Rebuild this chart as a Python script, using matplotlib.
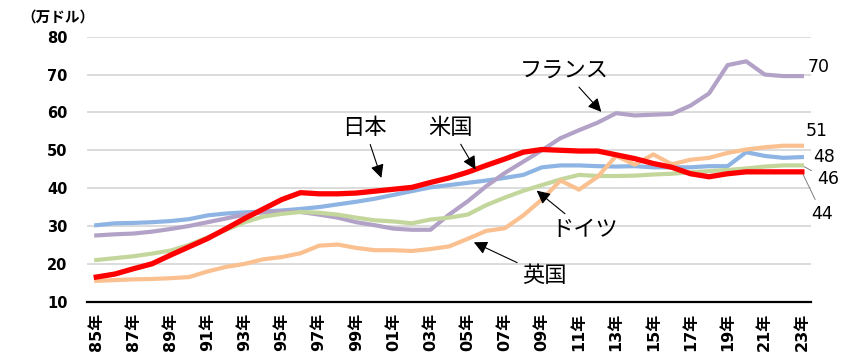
import numpy as np
import matplotlib
matplotlib.use("Agg")
import matplotlib.pyplot as plt

plt.rcParams['font.family'] = ['DejaVu Sans', 'Noto Sans CJK JP']

# 1985 - 2023
years = list(range(1985, 2024))
year_labels = [f"{y % 100:02d}年" for y in years]

japan = [16.5, 17.3, 18.7, 20.0, 22.3, 24.5, 26.7, 29.3, 32.0, 34.5,
         37.0, 38.8, 38.5, 38.5, 38.7, 39.2, 39.7, 40.2, 41.5, 42.7,
         44.2, 46.0, 47.7, 49.5, 50.2, 50.0, 49.8, 49.8, 48.8, 47.8,
         46.5, 45.5, 43.8, 43.0, 43.8, 44.3, 44.3, 44.3, 44.3]
usa = [30.2, 30.7, 30.8, 31.0, 31.3, 31.8, 32.8, 33.3, 33.6, 33.8,
       34.1, 34.5, 35.0, 35.7, 36.4, 37.2, 38.2, 39.2, 40.2, 40.8,
       41.4, 42.0, 42.7, 43.5, 45.5, 46.0, 46.0, 45.8, 45.7, 45.8,
       45.5, 45.5, 45.5, 45.8, 45.8, 49.5, 48.5, 48.0, 48.2]
france = [27.5, 27.8, 28.0, 28.5, 29.2, 30.0, 31.0, 32.0, 33.0, 33.6,
          33.8, 33.7, 33.0, 32.2, 31.0, 30.2, 29.3, 29.0, 29.0, 33.0,
          36.5, 40.5, 44.0, 47.0, 50.0, 53.2, 55.3, 57.3, 59.8, 59.2,
          59.4, 59.6, 61.8, 65.0, 72.5, 73.5, 70.0, 69.6, 69.6]
germany = [21.0, 21.5, 22.0, 22.7, 23.5, 25.0, 27.0, 29.0, 31.0, 32.5,
           33.2, 33.7, 33.5, 33.0, 32.2, 31.5, 31.2, 30.7, 31.7, 32.2,
           33.0, 35.5, 37.5, 39.3, 40.8, 42.3, 43.5, 43.2, 43.2, 43.3,
           43.6, 43.8, 44.2, 44.5, 44.8, 45.2, 45.7, 46.0, 46.0]
uk = [15.5, 15.7, 15.9, 16.0, 16.2, 16.5, 18.0, 19.2, 20.0, 21.2,
      21.8, 22.8, 24.8, 25.1, 24.2, 23.6, 23.6, 23.4, 23.9, 24.6,
      26.6, 28.7, 29.4, 32.8, 37.0, 42.0, 39.6, 43.0, 48.5, 46.2,
      48.9, 46.3, 47.5, 48.0, 49.3, 50.2, 50.8, 51.2, 51.2]

x = np.arange(len(years))

fig = plt.figure(figsize=(8.57, 3.6), dpi=100)
ax = fig.add_axes([0.1015, 0.162, 0.845, 0.736])

ax.plot(x, usa, color='#8EB4E3', lw=3.0, zorder=3)
ax.plot(x, france, color='#B3A2C7', lw=3.0, zorder=3)
ax.plot(x, germany, color='#C3D69B', lw=3.0, zorder=3)
ax.plot(x, uk, color='#FAC090', lw=3.0, zorder=3)
ax.plot(x, japan, color='#FF0000', lw=3.8, zorder=4)

ax.set_xlim(-0.5, len(years) - 0.5)
ax.set_ylim(10, 80)
ax.set_yticks(range(10, 81, 10))
ax.set_xticks(x[::2])
ax.set_xticklabels(year_labels[::2], rotation=90, fontweight='bold', fontsize=11.5)
for lab in ax.get_yticklabels():
    lab.set_fontweight('bold')
    lab.set_fontsize(10.5)
ax.tick_params(axis='y', length=0, pad=14)
ax.tick_params(axis='x', length=0, pad=8)

for v in range(20, 81, 10):
    ax.axhline(v, color='#D9D9D9', lw=1.3, zorder=1)
for s in ['top', 'right', 'left']:
    ax.spines[s].set_visible(False)
ax.spines['bottom'].set_color('black')
ax.spines['bottom'].set_linewidth(1.6)

fig.text(0.025, 0.953, '（万ドル）', fontsize=10.5, fontweight='bold',
         family=['Noto Sans CJK JP'], va='center')

# 注釈
arrow = dict(arrowstyle='-|>', color='black', lw=0.8, mutation_scale=20)
jp_font = ['Noto Sans CJK JP']
ax.annotate('日本', xy=(15.4, 42.0), xytext=(14.45, 56), fontsize=16, family=jp_font,
            ha='center', va='center', arrowprops=arrow, zorder=6)
ax.annotate('米国', xy=(20.5, 44.3), xytext=(19.1, 56), fontsize=16, family=jp_font,
            ha='center', va='center', arrowprops=arrow, zorder=6)
ax.annotate('フランス', xy=(27.3, 59.6), xytext=(25.2, 71.0), fontsize=16, family=jp_font,
            ha='center', va='center', arrowprops=arrow, zorder=6)
ax.annotate('ドイツ', xy=(23.6, 39.8), xytext=(26.3, 29.0), fontsize=16, family=jp_font,
            ha='center', va='center', arrowprops=arrow, zorder=6)
ax.annotate('英国', xy=(20.2, 26.0), xytext=(24.15, 16.9), fontsize=16, family=jp_font,
            ha='center', va='center', arrowprops=arrow, zorder=6)

# 末尾の値
last = len(years) - 1
ax.text(last + 0.3, france[-1] + 2.5, f"{france[-1]:.0f}", fontsize=12.5, va='center')
ax.text(last + 0.2, uk[-1] + 4.0, f"{uk[-1]:.0f}", fontsize=12.5, va='center')
ax.text(last + 0.6, usa[-1], f"{usa[-1]:.0f}", fontsize=12.5, va='center')
ax.annotate(f"{germany[-1]:.0f}", xy=(last, germany[-1]), xytext=(last + 0.8, 42.3),
            fontsize=12.5, va='center', annotation_clip=False,
            arrowprops=dict(arrowstyle='-', color='gray', lw=0.7))
ax.annotate(f"{japan[-1]:.0f}", xy=(last, japan[-1]), xytext=(last + 0.5, 33.2),
            fontsize=12.5, va='center', annotation_clip=False,
            arrowprops=dict(arrowstyle='-', color='gray', lw=0.7))

fig.savefig('out.png', dpi=100)
